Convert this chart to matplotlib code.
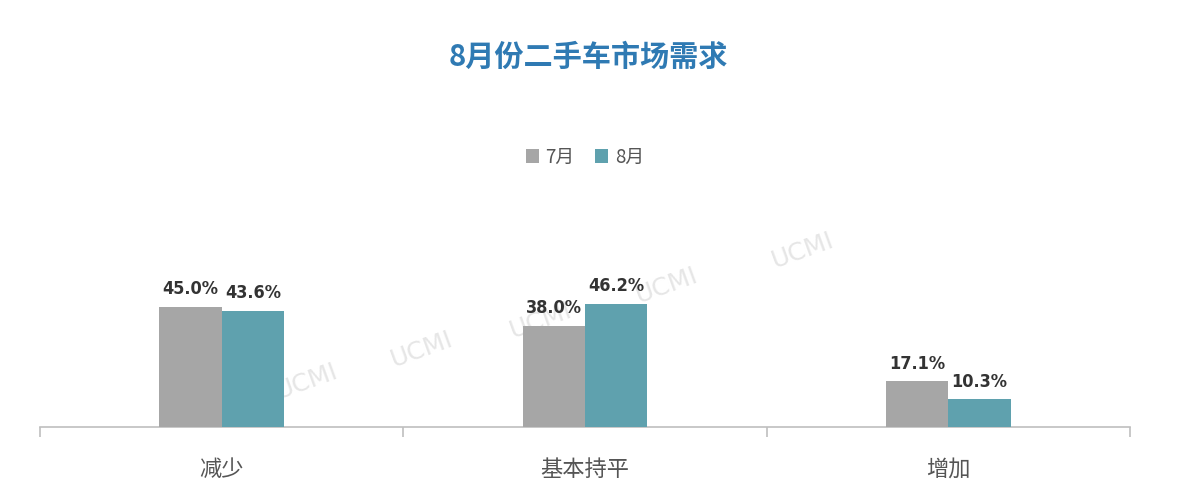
import numpy as np
import matplotlib.pyplot as plt

plt.rcParams['font.family'] = ['Noto Sans CJK SC', 'DejaVu Sans']

categories = ['减少', '基本持平', '增加']
series_names = ['7月', '8月']
july = [45.0, 38.0, 17.1]
august = [43.6, 46.2, 10.3]
colors = ['#a6a6a6', '#5fa1ae']

fig = plt.figure(figsize=(11.9, 5.03), dpi=100)
fig.patch.set_facecolor('white')
ax = fig.add_axes([40 / 1190, 76 / 503, 1090 / 1190, 267 / 503])
ax.set_facecolor('none')

x = np.arange(len(categories))
w = 0.172
b1 = ax.bar(x - w / 2, july, w, color=colors[0], label=series_names[0], zorder=3)
b2 = ax.bar(x + w / 2, august, w, color=colors[1], label=series_names[1], zorder=3)

for bars, vals in ((b1, july), (b2, august)):
    for rect, v in zip(bars, vals):
        ax.text(rect.get_x() + rect.get_width() / 2, v + 3.2, f'{v:.1f}%',
                ha='center', va='bottom', fontsize=13, fontweight='bold',
                fontstretch='condensed', color='#333333', family='DejaVu Sans',
                zorder=4)

# faint watermarks
for wx, wy in [(0.35, 0.29), (0.46, 0.40), (0.575, 0.53), (0.70, 0.66), (0.245, 0.17)]:
    ax.text(wx, wy, 'UCMI', transform=ax.transAxes, fontsize=18, color='#e6e6e6',
            rotation=20, ha='center', va='center', family='DejaVu Sans', zorder=1)

ax.set_xlim(-0.5, len(categories) - 0.5)
ax.set_ylim(0, 100)
ax.set_yticks([])
for s in ['top', 'right', 'left']:
    ax.spines[s].set_visible(False)
ax.spines['bottom'].set_color('#bfbfbf')
ax.spines['bottom'].set_linewidth(1.2)

ax.set_xticks(x)
ax.set_xticklabels(categories, fontsize=16, color='#555555')
ax.tick_params(axis='x', which='major', length=0, pad=22)
ax.set_xticks(np.arange(-0.5, len(categories), 1.0), minor=True)
ax.tick_params(axis='x', which='minor', length=7, width=1.2, color='#bfbfbf')

leg = ax.legend(loc='center', bbox_to_anchor=(0.5, (503 - 157 - 76) / 267), ncol=2,
                frameon=False, fontsize=13.5, handlelength=0.7, handleheight=0.7,
                handletextpad=0.35, columnspacing=1.1)
for t in leg.get_texts():
    t.set_color('#555555')

fig.text(0.494, 1 - 57 / 503, '8月份二手车市场需求', ha='center', va='center',
         fontsize=21, fontweight='bold', color='#2f7ab3')

fig.savefig('out.png', dpi=100)
